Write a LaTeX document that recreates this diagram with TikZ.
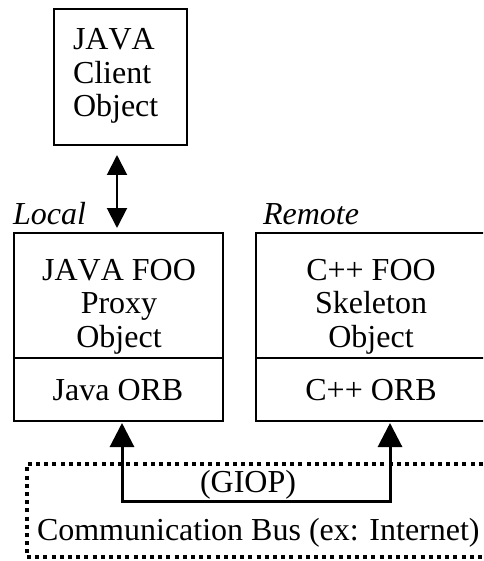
\documentclass[tikz,border=0pt]{standalone}
\usepackage{fontspec}
\setmainfont{Liberation Serif}[Kerning=Off]
\usetikzlibrary{arrows.meta}
\begin{document}
\begin{tikzpicture}[x=1pt,y=-1pt,
  every node/.style={inner sep=0pt,outer sep=0pt},
  txt/.style={font=\fontsize{32}{33.5}\selectfont, align=center},
  boxframe/.style={draw, line width=1.5pt},
  divider/.style={line width=2pt},
  dbl/.style={line width=2pt, {Triangle[width=20pt,length=20pt]}-{Triangle[width=20pt,length=20pt]}},
  busarrow/.style={line width=3pt, line join=miter, {Triangle[width=24pt,length=24pt]}-{Triangle[width=24pt,length=24pt]}},
  busframe/.style={draw, line width=4pt, dash pattern=on 4pt off 4.2pt}]
\useasboundingbox (0,0) rectangle (483,561);
\clip (0,0) rectangle (483,561);
% boxes
\node[boxframe, minimum width=133pt, minimum height=136pt] (client) at (120.5,77) {};
\node[boxframe, minimum width=209pt, minimum height=188pt] (left) at (118.5,327) {};
\node[boxframe, minimum width=230pt, minimum height=188pt] (right) at (371,327) {};
\coordinate (dv) at (0,358);
\draw[divider] (left.west |- dv) -- (left.east |- dv);
\draw[divider] (right.west |- dv) -- (right.east |- dv);
% texts (base anchor = baseline of the last line)
\node[txt, align=left, anchor=base west] (clienttxt) at (73,117) {JAVA\\Client\\Object};
\node[txt, anchor=base] (lefttxt) at (119,347) {JAVA FOO\\Proxy\\Object};
\node[txt, anchor=base] (righttxt) at (371,347) {C++ FOO\\Skeleton\\Object};
\node[txt, anchor=base] (leftorb) at (118,400) {Java ORB};
\node[txt, anchor=base] (rightorb) at (371,400) {C++ ORB};
\node[txt, font=\fontsize{32}{33.5}\selectfont\itshape, anchor=base west] (local) at (13,224) {Local};
\node[txt, font=\fontsize{32}{33.5}\selectfont\itshape, anchor=base west] (remote) at (263,224) {Remote};
% communication bus
\node[busframe, minimum width=493pt, minimum height=93pt] (bus) at (273.5,510.5) {};
\node[txt, anchor=base west] (bustxt) at (37,540) {Communication Bus (ex: Internet)};
\node[txt, anchor=base] (giop) at (248,492) {(GIOP)};
% connectors
\coordinate (ax) at (117,0);
\draw[dbl, shorten <=10pt, shorten >=5pt] (client.south -| ax) -- (left.north -| ax);
\coordinate (jl) at (122,501);
\coordinate (jr) at (390,501);
\draw[busarrow, shorten <=2pt, shorten >=2pt] (left.south -| jl) -- (jl) -- (jr) -- (right.south -| jr);
\end{tikzpicture}
\end{document}
